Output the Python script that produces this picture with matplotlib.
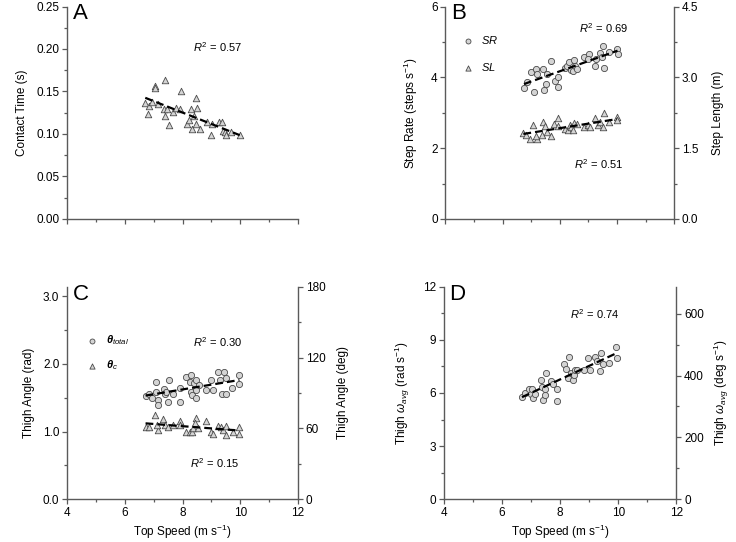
import numpy as np
import matplotlib
matplotlib.use("Agg")
import matplotlib.pyplot as plt
from matplotlib.ticker import MultipleLocator, FixedLocator, NullFormatter

plt.rcParams['font.family'] = ['Liberation Sans', 'DejaVu Sans']
plt.rcParams['mathtext.fontset'] = 'custom'
plt.rcParams['mathtext.rm'] = 'Liberation Sans'
plt.rcParams['mathtext.it'] = 'Liberation Sans:italic'
plt.rcParams['mathtext.bf'] = 'Liberation Sans:bold:italic'

# ---------------- data ----------------
a_speed = [6.71, 6.83, 6.81, 6.93, 7.06, 7.06, 7.15, 7.41, 7.35, 7.39, 7.46, 7.54, 7.66, 7.79, 7.90,
           7.93, 8.16, 8.24, 8.30, 8.33, 8.39, 8.48, 8.50, 8.46, 8.60, 8.83, 8.99, 9.02, 9.25, 9.37,
           9.40, 9.46, 9.52, 9.69, 9.98]
a_contact = [0.136, 0.133, 0.124, 0.138, 0.157, 0.154, 0.135, 0.164, 0.129, 0.121, 0.129, 0.111, 0.126,
             0.131, 0.129, 0.151, 0.112, 0.117, 0.129, 0.106, 0.121, 0.142, 0.131, 0.112, 0.106, 0.114,
             0.099, 0.112, 0.114, 0.114, 0.104, 0.102, 0.099, 0.102, 0.099]

b_speed_sr = [6.75, 6.85, 6.98, 7.10, 7.17, 7.19, 7.40, 7.45, 7.52, 7.57, 7.70, 7.83, 7.93, 7.95, 8.18,
              8.27, 8.33, 8.39, 8.47, 8.49, 8.53, 8.59, 8.85, 9.03, 8.99, 9.25, 9.28, 9.40, 9.46, 9.52,
              9.55, 9.71, 10.00, 10.02]
b_sr = [3.71, 3.87, 4.14, 3.59, 4.23, 4.09, 4.23, 3.65, 3.81, 4.09, 4.46, 3.90, 3.74, 4.02, 4.25,
        4.33, 4.42, 4.21, 4.18, 4.50, 4.33, 4.23, 4.56, 4.67, 4.51, 4.33, 4.51, 4.70, 4.56, 4.89,
        4.26, 4.72, 4.80, 4.67]
b_speed_sl = [6.73, 6.81, 6.96, 7.08, 7.19, 7.17, 7.37, 7.43, 7.48, 7.54, 7.69, 7.81, 7.93, 7.95, 8.18,
              8.30, 8.36, 8.41, 8.47, 8.49, 8.59, 8.85, 8.99, 9.05, 9.25, 9.34, 9.40, 9.52, 9.55, 9.71,
              10.00, 10.00]
b_sl = [1.82, 1.78, 1.70, 1.99, 1.70, 1.76, 1.78, 2.05, 1.97, 1.85, 1.75, 2.01, 2.13, 1.97, 1.91,
        1.89, 1.99, 1.94, 1.89, 2.03, 2.01, 1.94, 1.99, 1.94, 2.13, 1.99, 2.06, 1.94, 2.24, 2.06,
        2.15, 2.10]

c_speed_total = [6.72, 6.84, 6.96, 7.07, 7.07, 7.14, 7.15, 7.35, 7.41, 7.44, 7.50, 7.54, 7.67, 7.90, 7.90,
                 8.13, 8.25, 8.31, 8.28, 8.33, 8.39, 8.45, 8.48, 8.48, 8.57, 8.82, 9.00, 9.05, 9.22, 9.28,
                 9.37, 9.42, 9.49, 9.51, 9.71, 9.95, 9.97]
c_theta_total = [1.53, 1.56, 1.50, 1.73, 1.59, 1.47, 1.40, 1.63, 1.55, 1.59, 1.43, 1.76, 1.55, 1.64, 1.44,
                 1.81, 1.74, 1.84, 1.59, 1.54, 1.72, 1.62, 1.50, 1.76, 1.69, 1.61, 1.76, 1.61, 1.88, 1.76,
                 1.55, 1.88, 1.55, 1.79, 1.65, 1.84, 1.70]
c_speed_c = [6.72, 6.84, 7.04, 7.14, 7.10, 7.33, 7.39, 7.50, 7.67, 7.90, 7.90, 8.13, 8.25, 8.34, 8.36,
             8.48, 8.42, 8.54, 8.82, 9.00, 9.05, 9.22, 9.32, 9.40, 9.49, 9.51, 9.74, 9.97, 9.97]
c_theta_c = [1.07, 1.07, 1.24, 1.02, 1.10, 1.18, 1.10, 1.07, 1.10, 1.15, 1.10, 0.99, 1.00, 0.99, 1.05,
             1.20, 1.13, 1.05, 1.15, 0.99, 0.97, 1.08, 1.07, 1.03, 1.08, 0.95, 1.00, 1.06, 0.97]

d_speed = [6.69, 6.80, 6.92, 7.01, 7.04, 7.07, 7.12, 7.33, 7.39, 7.41, 7.47, 7.47, 7.52, 7.67, 7.75,
           7.89, 7.90, 8.13, 8.21, 8.29, 8.27, 8.36, 8.44, 8.48, 8.52, 8.59, 8.82, 8.96, 9.04, 9.19,
           9.28, 9.40, 9.36, 9.48, 9.67, 9.94, 9.96]
d_omega = [5.77, 6.01, 6.20, 5.92, 6.20, 5.73, 5.92, 6.72, 6.33, 5.58, 5.88, 6.20, 7.14, 6.67, 6.48,
           6.20, 5.54, 7.66, 7.36, 8.02, 6.82, 7.14, 6.72, 6.99, 7.27, 7.27, 7.27, 7.98, 7.27, 8.02,
           7.79, 8.26, 7.23, 7.64, 7.70, 8.60, 7.98]

r2_labels = {"A": ["0.57"], "B": ["0.69", "0.51"], "C": ["0.30", "0.15"], "D": ["0.74"]}
x_ticks = [4, 6, 8, 10, 12]

# ---------------- style ----------------
SP = '#5a5a5a'
FACE = '#d4d4d4'
EDGE = '#4a4a4a'
FS = 8.5

fig = plt.figure(figsize=(7.36, 5.42), dpi=100)


def style_axis(ax, right=False):
    for s in ['top', 'right']:
        ax.spines[s].set_visible(False)
    for s in ['left', 'bottom']:
        ax.spines[s].set_color(SP)
        ax.spines[s].set_linewidth(1.0)
    ax.set_xlim(4, 12)
    ax.xaxis.set_major_locator(FixedLocator(x_ticks))
    ax.xaxis.set_minor_locator(MultipleLocator(1))
    ax.tick_params(which='both', direction='out', color=SP, width=0.9, labelsize=FS, pad=2)
    ax.tick_params(which='major', length=3.5)
    ax.tick_params(which='minor', length=2.5)


def style_right(axr):
    for s in ['top', 'left', 'bottom']:
        axr.spines[s].set_visible(False)
    axr.spines['right'].set_color(SP)
    axr.spines['right'].set_linewidth(1.0)
    axr.tick_params(which='both', direction='out', color=SP, width=0.9, labelsize=FS, pad=2)
    axr.tick_params(which='major', length=3.5)
    axr.tick_params(which='minor', length=2.5)


def scatter(ax, x, y, marker, label=None, s=20):
    ax.scatter(x, y, marker=marker, s=s, facecolor=FACE, edgecolor=EDGE, linewidth=0.6,
               zorder=3, label=label)


def trend(ax, x, y):
    x = np.asarray(x)
    y = np.asarray(y)
    k, b = np.polyfit(x, y, 1)
    xs = np.array([x.min(), x.max()])
    ax.plot(xs, k * xs + b, color='black', lw=1.6, ls=(0, (3.5, 1.8)), zorder=4)


def letter(ax, t):
    ax.text(0.025, 1.015, t, transform=ax.transAxes, fontsize=16, va='top', ha='left')


def r2(ax, x, y, val):
    ax.text(x, y, r'$R^2$ = ' + val, transform=ax.transAxes, fontsize=8, ha='center', va='center')


W = 0.314
H = 0.392
# ---------------- A ----------------
axA = fig.add_axes([0.091, 0.596, W, H])
style_axis(axA)
axA.set_ylim(0, 0.25)
axA.yaxis.set_major_locator(MultipleLocator(0.05))
axA.yaxis.set_minor_locator(MultipleLocator(0.025))
axA.yaxis.set_major_formatter(matplotlib.ticker.FormatStrFormatter('%.2f'))
axA.xaxis.set_major_formatter(NullFormatter())
scatter(axA, a_speed, a_contact, '^', s=22)
trend(axA, a_speed, a_contact)
axA.set_ylabel('Contact Time (s)', fontsize=FS, labelpad=6)
letter(axA, 'A')
r2(axA, 0.65, 0.81, r2_labels["A"][0])

# ---------------- B ----------------
axB = fig.add_axes([0.605, 0.596, 0.311, H])
style_axis(axB)
axB.set_ylim(0, 6)
axB.yaxis.set_major_locator(MultipleLocator(2))
axB.yaxis.set_minor_locator(MultipleLocator(1))
axB.xaxis.set_major_formatter(NullFormatter())
axBr = axB.twinx()
style_right(axBr)
axBr.set_ylim(0, 4.5)
axBr.yaxis.set_major_locator(MultipleLocator(1.5))
axBr.yaxis.set_minor_locator(MultipleLocator(0.75))
axBr.yaxis.set_major_formatter(matplotlib.ticker.FormatStrFormatter('%.1f'))
scatter(axB, b_speed_sr, b_sr, 'o', label=r'$SR$')
trend(axB, b_speed_sr, b_sr)
scatter(axBr, b_speed_sl, b_sl, '^', label=r'$SL$', s=22)
trend(axBr, b_speed_sl, b_sl)
axB.set_ylabel(r'Step Rate (steps s$^{\mathregular{-1}}$)', fontsize=FS, labelpad=8)
axBr.set_ylabel('Step Length (m)', fontsize=FS, labelpad=10)
letter(axB, 'B')
r2(axB, 0.69, 0.90, r2_labels["B"][0])
r2(axB, 0.67, 0.26, r2_labels["B"][1])
hB = [axB.collections[0], axBr.collections[0]]
axB.legend(hB, [r'$SR$', r'$SL$'], loc='upper left', bbox_to_anchor=(0.03, 0.89), frameon=False,
           fontsize=8, labelspacing=1.3, handletextpad=0.2, markerscale=0.8, borderaxespad=0)

# ---------------- C ----------------
axC = fig.add_axes([0.091, 0.079, W, H])
style_axis(axC)
axC.set_ylim(0, np.pi)
axC.yaxis.set_major_locator(MultipleLocator(1.0))
axC.yaxis.set_minor_locator(MultipleLocator(0.5))
axC.yaxis.set_major_formatter(matplotlib.ticker.FormatStrFormatter('%.1f'))
axCr = axC.twinx()
style_right(axCr)
axCr.set_ylim(0, 180)
axCr.yaxis.set_major_locator(MultipleLocator(60))
axCr.yaxis.set_minor_locator(MultipleLocator(30))
scatter(axC, c_speed_total, c_theta_total, 'o', label='total')
trend(axC, c_speed_total, c_theta_total)
scatter(axC, c_speed_c, c_theta_c, '^', label='c', s=22)
trend(axC, c_speed_c, c_theta_c)
axC.set_ylabel('Thigh Angle (rad)', fontsize=FS, labelpad=6)
axCr.set_ylabel('Thigh Angle (deg)', fontsize=FS, labelpad=8)
axC.set_xlabel(r'Top Speed (m s$^{\mathregular{-1}}$)', fontsize=FS, labelpad=3)
letter(axC, 'C')
r2(axC, 0.65, 0.74, r2_labels["C"][0])
r2(axC, 0.64, 0.17, r2_labels["C"][1])
axC.legend(axC.collections[:2], [r'$\mathbf{\theta}_{\mathit{total}}$', r'$\mathbf{\theta}_{\mathit{c}}$'],
           loc='upper left', bbox_to_anchor=(0.04, 0.80), frameon=False, fontsize=8,
           labelspacing=1.0, handletextpad=0.3, markerscale=0.8, borderaxespad=0)

# ---------------- D ----------------
axD = fig.add_axes([0.603, 0.079, 0.316, H])
style_axis(axD)
axD.set_ylim(0, 12)
axD.yaxis.set_major_locator(MultipleLocator(3))
axD.yaxis.set_minor_locator(MultipleLocator(1.5))
axDr = axD.twinx()
style_right(axDr)
axDr.set_ylim(0, 12 * 180 / np.pi)
axDr.yaxis.set_major_locator(MultipleLocator(200))
axDr.yaxis.set_minor_locator(MultipleLocator(100))
scatter(axD, d_speed, d_omega, 'o')
trend(axD, d_speed, d_omega)
axD.set_ylabel(r'Thigh $\omega_{avg}$ (rad s$^{\mathregular{-1}}$)', fontsize=FS, labelpad=8)
axDr.set_ylabel(r'Thigh $\omega_{avg}$ (deg s$^{\mathregular{-1}}$)', fontsize=FS, labelpad=6)
axD.set_xlabel(r'Top Speed (m s$^{\mathregular{-1}}$)', fontsize=FS, labelpad=3)
letter(axD, 'D')
r2(axD, 0.65, 0.87, r2_labels["D"][0])

fig.savefig('out.png', dpi=100)
